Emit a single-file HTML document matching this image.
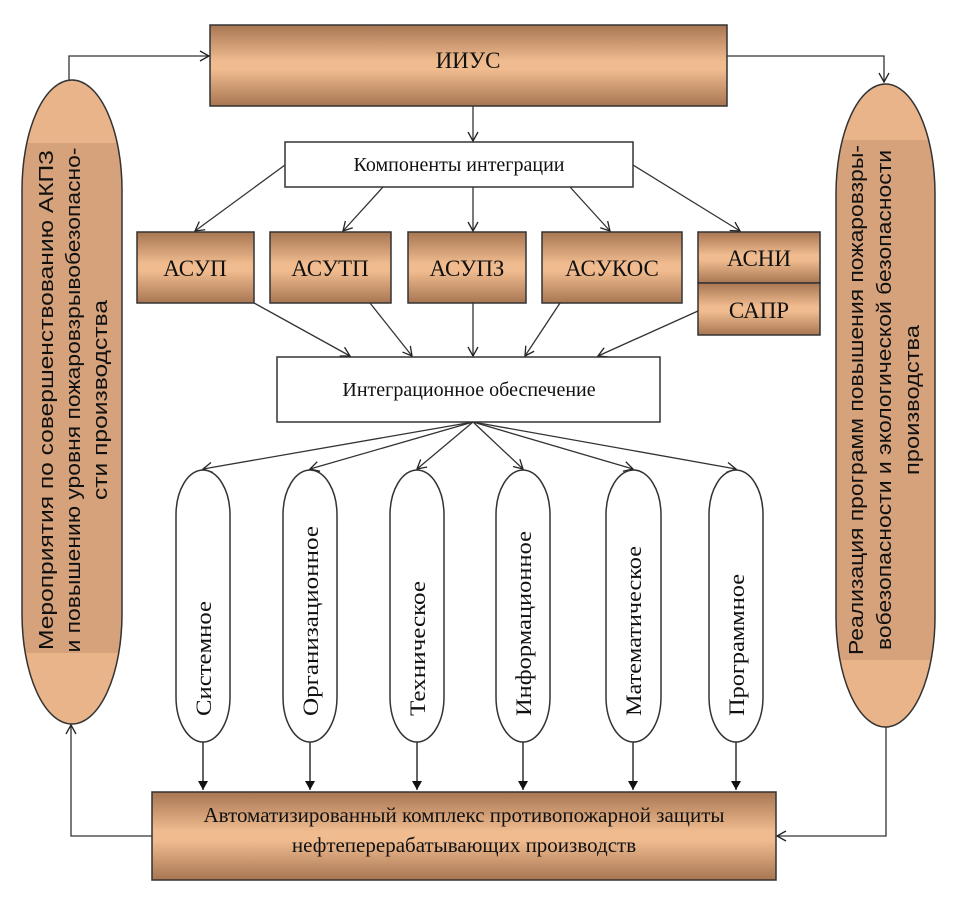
<!DOCTYPE html>
<html><head><meta charset="utf-8"><style>body{margin:0;background:#fff}svg{display:block}text{font-family:"Liberation Serif",serif;fill:#111}</style></head><body>
<svg width="975" height="899" viewBox="0 0 975 899" xmlns="http://www.w3.org/2000/svg">
<defs>
<linearGradient id="g" x1="0" y1="0" x2="0" y2="1"><stop offset="0" stop-color="#a77652"/><stop offset="0.45" stop-color="#f0bb8f"/><stop offset="0.55" stop-color="#f0bb8f"/><stop offset="1" stop-color="#a77652"/></linearGradient>
<marker id="o" markerWidth="12" markerHeight="12" refX="10" refY="6" orient="auto" markerUnits="userSpaceOnUse"><path d="M1,1 L10,6 L1,11" fill="none" stroke="#222" stroke-width="1.3"/></marker>
<marker id="f" markerWidth="10" markerHeight="10" refX="9" refY="5" orient="auto" markerUnits="userSpaceOnUse"><path d="M0,0 L9,5 L0,10 Z" fill="#111"/></marker>
<clipPath id="cl"><path d="M22,190 A50,110 0 0 1 122,190 V614 A50,110 0 0 1 22,614 Z"/></clipPath>
<clipPath id="cr"><path d="M836,194 A49.5,110 0 0 1 935,194 V617 A49.5,110 0 0 1 836,617 Z"/></clipPath>
</defs>
<g stroke="#333" stroke-width="1.3" fill="none">
<path d="M69,80 V56 H209" marker-end="url(#o)"/>
<path d="M727,56 H884 V82" marker-end="url(#o)"/>
<path d="M473,106 V141" marker-end="url(#o)"/>
<path d="M285,165 L195,231" marker-end="url(#o)"/>
<path d="M383,187 L343,231" marker-end="url(#o)"/>
<path d="M473,187 V231" marker-end="url(#o)"/>
<path d="M570,187 L610,231" marker-end="url(#o)"/>
<path d="M633,165 L740,231" marker-end="url(#o)"/>
<path d="M254,303 L350,356" marker-end="url(#o)"/>
<path d="M370,303 L412,356" marker-end="url(#o)"/>
<path d="M473,303 V356" marker-end="url(#o)"/>
<path d="M560,303 L525,356" marker-end="url(#o)"/>
<path d="M698,311 L598,356" marker-end="url(#o)"/>
<path d="M473,422 L203,469" marker-end="url(#o)"/>
<path d="M473,422 L310,469" marker-end="url(#o)"/>
<path d="M473,422 L417,469" marker-end="url(#o)"/>
<path d="M473,422 L523,469" marker-end="url(#o)"/>
<path d="M473,422 L633,469" marker-end="url(#o)"/>
<path d="M473,422 L736,469" marker-end="url(#o)"/>
<path d="M886,727 V836 H777" marker-end="url(#o)"/>
<path d="M152,836 H71 V725" marker-end="url(#o)"/>
</g>
<g stroke="#111" stroke-width="1.3">
<line x1="203" y1="742" x2="203" y2="790" marker-end="url(#f)"/>
<line x1="310" y1="742" x2="310" y2="790" marker-end="url(#f)"/>
<line x1="417" y1="742" x2="417" y2="790" marker-end="url(#f)"/>
<line x1="523" y1="742" x2="523" y2="790" marker-end="url(#f)"/>
<line x1="633" y1="742" x2="633" y2="790" marker-end="url(#f)"/>
<line x1="736" y1="742" x2="736" y2="790" marker-end="url(#f)"/>
</g>
<path d="M22,190 A50,110 0 0 1 122,190 V614 A50,110 0 0 1 22,614 Z" fill="#e9b48a"/>
<path d="M836,194 A49.5,110 0 0 1 935,194 V617 A49.5,110 0 0 1 836,617 Z" fill="#e9b48a"/>
<rect x="20" y="143" width="104" height="510" fill="#d6a27b" clip-path="url(#cl)"/>
<rect x="834" y="140" width="104" height="520" fill="#d6a27b" clip-path="url(#cr)"/>
<g stroke="#333" stroke-width="1.5">
<rect x="210" y="25" width="517" height="81" fill="url(#g)"/>
<rect x="285" y="142" width="348" height="45" fill="#fff"/>
<rect x="137" y="232" width="117" height="71" fill="url(#g)"/>
<rect x="270" y="232" width="121" height="71" fill="url(#g)"/>
<rect x="408" y="232" width="118" height="71" fill="url(#g)"/>
<rect x="542" y="232" width="140" height="71" fill="url(#g)"/>
<rect x="698" y="232" width="122" height="51" fill="url(#g)"/>
<rect x="698" y="283" width="122" height="52" fill="url(#g)"/>
<rect x="277" y="357" width="383" height="65" fill="#fff"/>
<rect x="152" y="792" width="624" height="88" fill="url(#g)"/>
<path d="M22,190 A50,110 0 0 1 122,190 V614 A50,110 0 0 1 22,614 Z" fill="none"/>
<path d="M836,194 A49.5,110 0 0 1 935,194 V617 A49.5,110 0 0 1 836,617 Z" fill="none"/>
<g fill="#fff">
<path d="M176,515 A27,45 0 0 1 230,515 V697 A27,45 0 0 1 176,697 Z"/>
<path d="M283,515 A27,45 0 0 1 337,515 V697 A27,45 0 0 1 283,697 Z"/>
<path d="M390,515 A27,45 0 0 1 444,515 V697 A27,45 0 0 1 390,697 Z"/>
<path d="M496,515 A27,45 0 0 1 550,515 V697 A27,45 0 0 1 496,697 Z"/>
<path d="M606,515 A27.5,45 0 0 1 661,515 V697 A27.5,45 0 0 1 606,697 Z"/>
<path d="M709,515 A27,45 0 0 1 763,515 V697 A27,45 0 0 1 709,697 Z"/>
</g>
</g>
<g font-size="23" text-anchor="middle">
<text x="468" y="68">ИИУС</text>
<text x="195" y="276">АСУП</text>
<text x="330" y="276">АСУТП</text>
<text x="467" y="276">АСУПЗ</text>
<text x="612" y="276">АСУКОС</text>
<text x="759" y="266">АСНИ</text>
<text x="759" y="318">САПР</text>
</g>
<g font-size="20" text-anchor="middle">
<text x="459" y="171">Компоненты интеграции</text>
<text x="469" y="396">Интеграционное обеспечение</text>
<text x="464" y="822" font-size="21">Автоматизированный комплекс противопожарной защиты</text>
<text x="464" y="852" font-size="21">нефтеперерабатывающих производств</text>
</g>
<g font-size="22">
<text transform="translate(211,716) rotate(-90)" textLength="115" lengthAdjust="spacingAndGlyphs">Системное</text>
<text transform="translate(318,716) rotate(-90)" textLength="190" lengthAdjust="spacingAndGlyphs">Организационное</text>
<text transform="translate(425,716) rotate(-90)" textLength="135" lengthAdjust="spacingAndGlyphs">Техническое</text>
<text transform="translate(531,716) rotate(-90)" textLength="185" lengthAdjust="spacingAndGlyphs">Информационное</text>
<text transform="translate(641,716) rotate(-90)" textLength="170" lengthAdjust="spacingAndGlyphs">Математическое</text>
<text transform="translate(744,716) rotate(-90)" textLength="142" lengthAdjust="spacingAndGlyphs">Программное</text>
</g>
<g font-size="20" text-anchor="middle">
<text transform="translate(53,400) rotate(-90)" style="font-family:'Liberation Sans',sans-serif" textLength="500" lengthAdjust="spacingAndGlyphs">Мероприятия по совершенствованию АКПЗ</text>
<text transform="translate(80,400) rotate(-90)" style="font-family:'Liberation Sans',sans-serif" textLength="505" lengthAdjust="spacingAndGlyphs">и повышению уровня пожаровзрывобезопасно-</text>
<text transform="translate(107,400) rotate(-90)" style="font-family:'Liberation Sans',sans-serif" textLength="200" lengthAdjust="spacingAndGlyphs">сти производства</text>
<text transform="translate(863,400) rotate(-90)" style="font-family:'Liberation Sans',sans-serif" textLength="510" lengthAdjust="spacingAndGlyphs">Реализация программ повышения пожаровзры-</text>
<text transform="translate(891,400) rotate(-90)" style="font-family:'Liberation Sans',sans-serif" textLength="500" lengthAdjust="spacingAndGlyphs">вобезопасности  и экологической безопасности</text>
<text transform="translate(919,400) rotate(-90)" style="font-family:'Liberation Sans',sans-serif" textLength="150" lengthAdjust="spacingAndGlyphs">производства</text>
</g>
</svg>
</body></html>
